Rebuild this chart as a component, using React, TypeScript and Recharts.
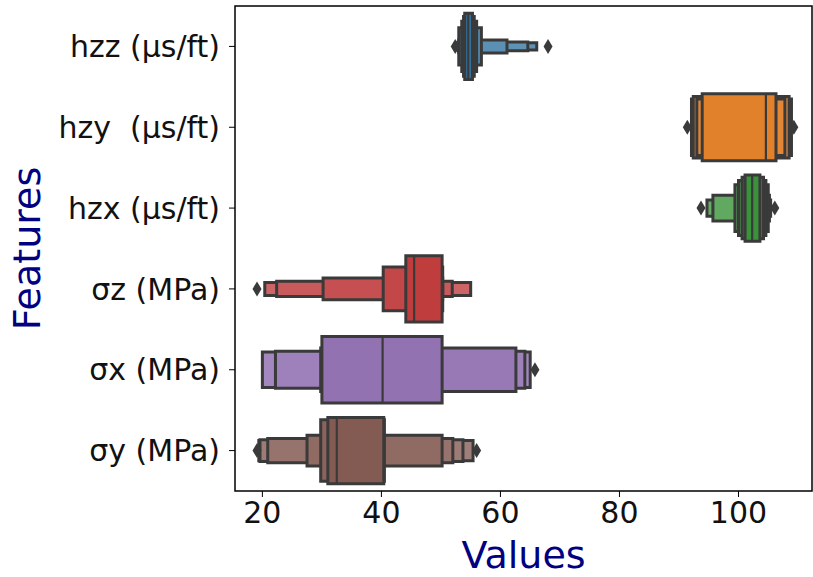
import { ComposedChart, XAxis, YAxis, ReferenceArea, ReferenceLine, Scatter, Label } from 'recharts';

// feature names, top to bottom
const features = ['hzz (μs/ft)', 'hzy\u00a0 (μs/ft)', 'hzx (μs/ft)', 'σz (MPa)', 'σx (MPa)', 'σy (MPa)'];
const featureColors = ['#3274a1', '#e1812c', '#3a923a', '#c03d3e', '#9372b2', '#845b53'];
const xTicks = [20, 40, 60, 80, 100];

// letter-value boxes, innermost first: [low, high, relative height]
const hzzBoxes = [
  [54.0, 55.3, 0.82],
  [53.8, 55.6, 0.74],
  [53.5, 56.0, 0.62],
  [53.0, 56.8, 0.46],
  [53.0, 61.1, 0.16],
  [52.9, 64.6, 0.11],
  [52.8, 66.1, 0.09],
];
const hzyBoxes = [
  [93.9, 106.3, 0.83],
  [93.0, 107.8, 0.7],
  [92.4, 108.5, 0.76],
  [92.1, 108.9, 0.7],
];
const hzxBoxes = [
  [101.1, 103.6, 0.82],
  [100.6, 104.2, 0.76],
  [100.0, 104.6, 0.68],
  [99.4, 105.0, 0.58],
  [95.7, 105.2, 0.32],
  [94.7, 105.4, 0.2],
];
const szBoxes = [
  [44.1, 50.2, 0.82],
  [40.3, 50.3, 0.54],
  [30.2, 50.3, 0.27],
  [22.4, 51.9, 0.19],
  [20.4, 55.0, 0.16],
];
const sxBoxes = [
  [30.0, 50.2, 0.82],
  [29.8, 62.6, 0.54],
  [22.2, 64.1, 0.46],
  [20.0, 65.0, 0.44],
];
const syBoxes = [
  [31.0, 40.4, 0.82],
  [29.8, 40.5, 0.76],
  [27.5, 50.2, 0.38],
  [20.9, 52.0, 0.3],
  [19.6, 53.7, 0.27],
  [19.4, 55.4, 0.25],
];

const medians = [54.6, 104.6, 102.3, 45.5, 40.2, 32.5];

const hzzOutliers = [52.4, 68.0];
const hzyOutliers = [91.4, 109.3];
const hzxOutliers = [93.7, 106.1];
const szOutliers = [19.1];
const sxOutliers = [65.8];
const syOutliers = [19.1, 56.0];

const allBoxes = [hzzBoxes, hzyBoxes, hzxBoxes, szBoxes, sxBoxes, syBoxes];
const allOutliers = [hzzOutliers, hzyOutliers, hzxOutliers, szOutliers, sxOutliers, syOutliers];

const outlierPoints = allOutliers.flatMap((vals, i) => vals.map((v) => ({ x: v, y: i })));

const EDGE = '#3a3a3a';

// outer levels get slightly lighter
const lighten = (hex: string, t: number) => {
  const n = parseInt(hex.slice(1), 16);
  const ch = [(n >> 16) & 255, (n >> 8) & 255, n & 255].map((c) => Math.round(c + (255 - c) * t));
  return '#' + ch.map((c) => c.toString(16).padStart(2, '0')).join('');
};

const Diamond = (props: any) => {
  const { cx, cy } = props;
  return (
    <polygon
      points={`${cx},${cy - 7.5} ${cx + 4.5},${cy} ${cx},${cy + 7.5} ${cx - 4.5},${cy}`}
      fill={EDGE}
    />
  );
};

const FeaturesLabel = (props: any) => {
  const { viewBox } = props;
  const x = viewBox.x + 27;
  const y = viewBox.y + viewBox.height / 2;
  return (
    <text
      x={x}
      y={y}
      transform={`rotate(-90, ${x}, ${y})`}
      textAnchor='middle'
      dominantBaseline='central'
      fontSize={38}
      fill='navy'
    >
      Features
    </text>
  );
};

const App = () => {
  return (
    <div style={{ position: 'absolute', left: 0, top: 0, fontFamily: 'DejaVu Sans' }}>
      <ComposedChart width={813} height={577} margin={{ top: 6, right: 1, left: 0, bottom: 0 }}>
        <XAxis
          type='number'
          dataKey='x'
          domain={[15.4, 112.35]}
          ticks={xTicks}
          interval={0}
          tickSize={6}
          tickMargin={5}
          height={86}
          axisLine={false}
          tickLine={{ stroke: '#000' }}
          tick={{ fontSize: 30, fill: '#111', fontFamily: 'DejaVu Sans' }}
        >
          <Label value='Values' position='insideBottom' offset={9} fontSize={38} fill='navy' />
        </XAxis>
        <YAxis
          type='number'
          dataKey='y'
          domain={[-0.5, 5.5]}
          reversed
          ticks={[0, 1, 2, 3, 4, 5]}
          interval={0}
          tickFormatter={(v: number) => features[v]}
          width={235}
          tickSize={6}
          tickMargin={9}
          axisLine={false}
          tickLine={{ stroke: '#000' }}
          tick={{ fontSize: 30, fill: '#111', fontFamily: 'DejaVu Sans' }}
        >
          <Label content={<FeaturesLabel />} />
        </YAxis>
        {allBoxes.flatMap((boxes, fi) =>
          boxes
            .map((b, li) => (
              <ReferenceArea
                key={`b-${fi}-${li}`}
                x1={b[0]}
                x2={b[1]}
                y1={fi - b[2] / 2}
                y2={fi + b[2] / 2}
                fill={lighten(featureColors[fi], Math.min(li * 0.05, 0.22))}
                fillOpacity={1}
                stroke={EDGE}
                strokeWidth={3}
                ifOverflow='visible'
              />
            ))
            .reverse()
        )}
        {medians.map((m, fi) => (
          <ReferenceLine
            key={`m-${fi}`}
            segment={[
              { x: m, y: fi - allBoxes[fi][0][2] / 2 },
              { x: m, y: fi + allBoxes[fi][0][2] / 2 },
            ]}
            stroke={EDGE}
            strokeWidth={2.2}
            ifOverflow='visible'
          />
        ))}
        <Scatter data={outlierPoints} shape={<Diamond />} isAnimationActive={false} />
        <ReferenceArea
          x1={15.4}
          x2={112.35}
          y1={-0.5}
          y2={5.5}
          fill='none'
          fillOpacity={0}
          stroke='#000'
          strokeWidth={1.5}
          ifOverflow='visible'
        />
      </ComposedChart>
    </div>
  );
};

export default App;
